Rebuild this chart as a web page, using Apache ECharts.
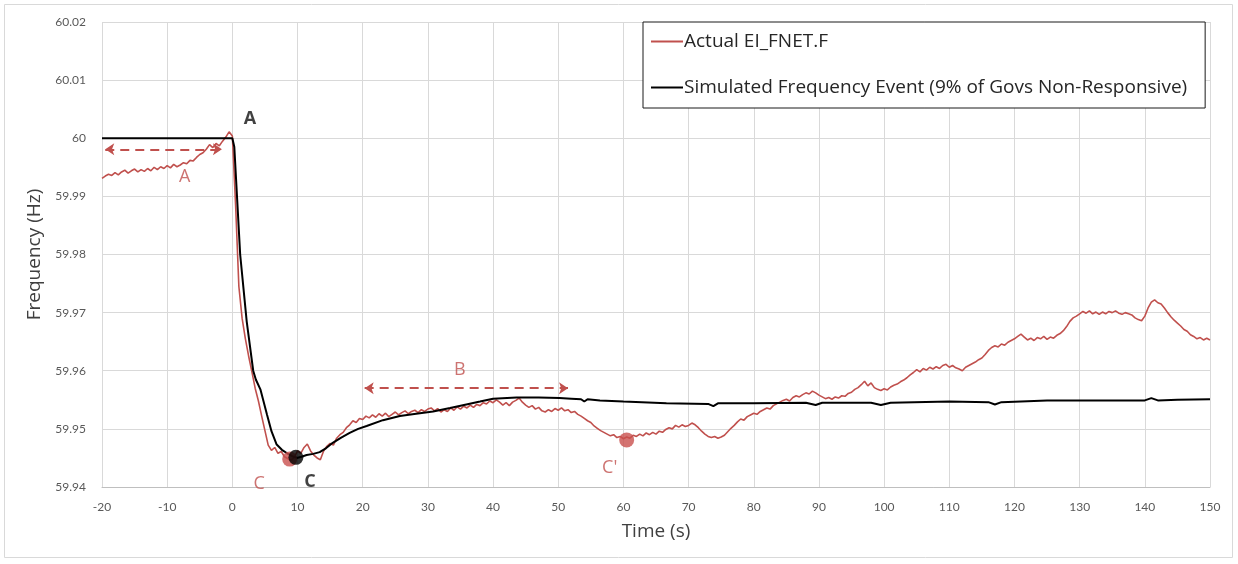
<!DOCTYPE html>
<html>
<head>
<meta charset="utf-8">
<script src="https://cdn.jsdelivr.net/npm/echarts@6/dist/echarts.min.js"></script>
<style>
	html, body { margin: 0; padding: 0; background: #fff; }
	#chart { width: 1238px; height: 564px; }
</style>
</head>
<body>
<div id="chart"></div>
<script>
// measured FNET frequency, one sample every 0.5 s from -20 s
const actualStart = -20;
const actualStep = 0.5;
const actualFreq = [
	59.9931, 59.9935, 59.9938, 59.9936, 59.9941, 59.9937, 59.9942, 59.9945, 59.9940, 59.9944,
	59.9947, 59.9942, 59.9946, 59.9943, 59.9948, 59.9944, 59.9950, 59.9946, 59.9951, 59.9948,
	59.9953, 59.9949, 59.9955, 59.9951, 59.9954, 59.9958, 59.9956, 59.9962, 59.9961, 59.9967,
	59.9972, 59.9975, 59.9981, 59.9989, 59.9984, 59.9991, 59.9987, 59.9995, 60.0002, 60.0011,
	60.0004, 59.9885, 59.9745, 59.9690, 59.9655, 59.9625, 59.9598, 59.9570, 59.9548, 59.9522,
	59.9497, 59.9472, 59.9463, 59.9468, 59.9458, 59.9461, 59.9452, 59.9449, 59.9446, 59.9451,
	59.9462, 59.9458, 59.9468, 59.9474, 59.9462, 59.9455, 59.9450, 59.9447, 59.9462, 59.9470,
	59.9475, 59.9472, 59.9484, 59.9490, 59.9494, 59.9502, 59.9507, 59.9514, 59.9511, 59.9518,
	59.9516, 59.9522, 59.9519, 59.9524, 59.9520, 59.9526, 59.9522, 59.9527, 59.9521, 59.9525,
	59.9529, 59.9524, 59.9528, 59.9531, 59.9526, 59.9530, 59.9532, 59.9528, 59.9533, 59.9530,
	59.9534, 59.9536, 59.9531, 59.9535, 59.9529, 59.9533, 59.9530, 59.9536, 59.9532, 59.9538,
	59.9534, 59.9539, 59.9536, 59.9541, 59.9537, 59.9542, 59.9540, 59.9545, 59.9543, 59.9548,
	59.9545, 59.9550, 59.9546, 59.9541, 59.9545, 59.9540, 59.9546, 59.9549, 59.9553, 59.9546,
	59.9541, 59.9537, 59.9540, 59.9534, 59.9537, 59.9531, 59.9529, 59.9533, 59.9530, 59.9535,
	59.9532, 59.9536, 59.9531, 59.9533, 59.9528, 59.9530, 59.9525, 59.9522, 59.9518, 59.9514,
	59.9511, 59.9505, 59.9501, 59.9497, 59.9494, 59.9491, 59.9488, 59.9490, 59.9485, 59.9487,
	59.9483, 59.9486, 59.9484, 59.9489, 59.9487, 59.9491, 59.9488, 59.9493, 59.9490, 59.9494,
	59.9491, 59.9496, 59.9494, 59.9499, 59.9502, 59.9500, 59.9506, 59.9503, 59.9507, 59.9504,
	59.9506, 59.9510, 59.9507, 59.9502, 59.9496, 59.9491, 59.9487, 59.9485, 59.9487, 59.9484,
	59.9486, 59.9489, 59.9495, 59.9501, 59.9506, 59.9512, 59.9517, 59.9515, 59.9521, 59.9524,
	59.9527, 59.9525, 59.9530, 59.9533, 59.9536, 59.9534, 59.9540, 59.9543, 59.9546, 59.9549,
	59.9551, 59.9548, 59.9554, 59.9557, 59.9555, 59.9559, 59.9562, 59.9560, 59.9565, 59.9562,
	59.9558, 59.9555, 59.9552, 59.9554, 59.9551, 59.9555, 59.9553, 59.9557, 59.9556, 59.9561,
	59.9563, 59.9568, 59.9571, 59.9576, 59.9582, 59.9574, 59.9579, 59.9571, 59.9568, 59.9566,
	59.9569, 59.9567, 59.9572, 59.9575, 59.9577, 59.9581, 59.9584, 59.9588, 59.9593, 59.9597,
	59.9602, 59.9598, 59.9604, 59.9601, 59.9606, 59.9603, 59.9607, 59.9604, 59.9609, 59.9611,
	59.9606, 59.9609, 59.9605, 59.9603, 59.9600, 59.9606, 59.9609, 59.9612, 59.9615, 59.9619,
	59.9622, 59.9628, 59.9635, 59.9640, 59.9643, 59.9641, 59.9646, 59.9644, 59.9649, 59.9652,
	59.9655, 59.9659, 59.9663, 59.9658, 59.9653, 59.9656, 59.9652, 59.9657, 59.9655, 59.9659,
	59.9654, 59.9658, 59.9656, 59.9661, 59.9664, 59.9669, 59.9676, 59.9685, 59.9691, 59.9694,
	59.9698, 59.9702, 59.9699, 59.9703, 59.9698, 59.9701, 59.9697, 59.9701, 59.9698, 59.9702,
	59.9700, 59.9703, 59.9699, 59.9697, 59.9700, 59.9698, 59.9696, 59.9691, 59.9688, 59.9686,
	59.9694, 59.9708, 59.9718, 59.9722, 59.9717, 59.9715, 59.9708, 59.9700, 59.9693, 59.9687,
	59.9682, 59.9677, 59.9671, 59.9668, 59.9662, 59.9659, 59.9655, 59.9657, 59.9653, 59.9656,
	59.9653
];

// simulated event
const simTime = [
	-20, 0, 0.3, 1.2, 2.2, 3.2, 3.6, 4.3, 5.3, 6.0, 6.8, 7.6, 8.4, 9.2, 9.9, 10.6, 11.4, 12.4,
	13.4, 14.4, 15.4, 16.7, 18, 19.3, 20.6, 23.1, 25.7, 28.2, 30.8, 33.4, 35.9, 38, 40, 43.6,
	47, 50.2, 52, 53.5, 54, 54.5, 56.4, 60, 66.6, 73, 73.8, 74.5, 80, 88, 89.5, 90.5, 98,
	99.5, 101, 110, 116, 117, 118, 125, 140, 141, 142, 145, 150
];
const simFreq = [
	60.0, 60.0, 59.9985, 59.9800, 59.9685, 59.9600, 59.9585, 59.9568, 59.9525, 59.9496, 59.9473,
	59.9464, 59.9458, 59.9453, 59.9450, 59.9452, 59.9455, 59.9457, 59.9460, 59.9467, 59.9476,
	59.9485, 59.9493, 59.9500, 59.9505, 59.9515, 59.9522, 59.9526, 59.9530, 59.9536, 59.9542,
	59.9547, 59.9552, 59.9554, 59.9554, 59.9553, 59.9552, 59.9551, 59.9547, 59.9551, 59.9549,
	59.9547, 59.9544, 59.9543, 59.9539, 59.9544, 59.9544, 59.9545, 59.9541, 59.9545, 59.9545,
	59.9541, 59.9545, 59.9547, 59.9546, 59.9542, 59.9546, 59.9549, 59.9549, 59.9553, 59.9549,
	59.9550, 59.9551
];

// annotations (data coordinates)
const notes = [
	{ text: 'A', x: 2.7, y: 60.0034, kind: 'black' },
	{ text: 'A', x: -7.3, y: 59.9933, kind: 'red' },
	{ text: 'B', x: 34.9, y: 59.9601, kind: 'red' },
	{ text: 'C', x: 4.1, y: 59.9406, kind: 'red' },
	{ text: 'C', x: 11.9, y: 59.9409, kind: 'black' },
	{ text: "C'", x: 57.9, y: 59.9433, kind: 'red' }
];
const arrowA = [[-19.5, 59.9981], [-1.6, 59.9981]];
const arrowB = [[20.3, 59.9570], [51.5, 59.9570]];
const redDots = [[8.8, 59.9448], [60.5, 59.9481]];
const blackDots = [[9.75, 59.9451]];

const RED = '#c0504d';
const FONT = '"Open Sans", Lato, sans-serif';
const TICKFONT = 'Lato, "Open Sans", sans-serif';

let actualData = actualFreq.map((v, i) => [actualStart + i * actualStep, v]);
let simData = simTime.map((t, i) => [t, simFreq[i]]);

let arrowLine = function(pts) {
	return [{ coord: pts[0] }, { coord: pts[1] }];
};

let chart = echarts.init(document.getElementById('chart'));
let option = {
	animation: false,
	textStyle: { fontFamily: FONT },
	graphic: [{
		type: 'rect',
		shape: { x: 4.5, y: 4.5, width: 1228, height: 553 },
		style: { fill: 'none', stroke: '#d9d9d9', lineWidth: 1 },
		silent: true
	}],
	grid: { left: 102, right: 28, top: 22, bottom: 77 },
	legend: {
		data: ['Actual EI_FNET.F', 'Simulated Frequency Event (9% of Govs Non-Responsive)'],
		orient: 'vertical',
		left: 643,
		top: 22,
		padding: [10, 18, 11, 8],
		itemGap: 27,
		itemWidth: 32,
		itemHeight: 2,
		icon: 'rect',
		borderColor: '#1a1a1a',
		borderWidth: 1,
		backgroundColor: '#fff',
		textStyle: { fontFamily: FONT, fontSize: 19, color: '#262626', padding: [0, 0, 0, -4] }
	},
	xAxis: {
		type: 'value',
		min: -20,
		max: 150,
		interval: 10,
		name: 'Time (s)',
		nameLocation: 'middle',
		nameGap: 35,
		nameTextStyle: { fontFamily: FONT, fontSize: 19, color: '#404040' },
		axisLine: { show: true, lineStyle: { color: '#bfbfbf', width: 1 } },
		axisTick: { show: false },
		axisLabel: { fontFamily: TICKFONT, fontSize: 12, color: '#595959', margin: 14 },
		splitLine: { show: true, lineStyle: { color: '#d9d9d9', width: 1 } }
	},
	yAxis: {
		type: 'value',
		min: 59.94,
		max: 60.02,
		interval: 0.01,
		name: 'Frequency (Hz)',
		nameLocation: 'middle',
		nameGap: 49,
		nameTextStyle: { fontFamily: FONT, fontSize: 19, color: '#404040' },
		axisLine: { show: false },
		axisTick: { show: false },
		axisLabel: { fontFamily: TICKFONT, fontSize: 12, color: '#595959', margin: 16 },
		splitLine: { show: true, lineStyle: { color: '#d9d9d9', width: 1 } }
	},
	series: [
		{
			name: 'Actual EI_FNET.F',
			type: 'line',
			data: actualData,
			showSymbol: false,
			color: RED,
			lineStyle: { color: RED, width: 1.6 },
			markLine: {
				silent: true,
				symbol: ['arrow', 'arrow'],
				symbolSize: [9, 9],
				label: { show: false },
				lineStyle: { color: RED, width: 2, type: [9, 6] },
				data: [arrowLine(arrowA), arrowLine(arrowB)]
			}
		},
		{
			name: 'Simulated Frequency Event (9% of Govs Non-Responsive)',
			type: 'line',
			data: simData,
			showSymbol: false,
			color: '#000',
			lineStyle: { color: '#000', width: 2 }
		},
		{
			name: 'redDots',
			type: 'scatter',
			data: redDots,
			symbolSize: 15,
			itemStyle: { color: '#c9504d' },
			z: 3
		},
		{
			name: 'blackDots',
			type: 'scatter',
			data: blackDots,
			symbolSize: 15,
			itemStyle: { color: '#000' },
			z: 4
		},
		{
			name: 'notes',
			type: 'scatter',
			symbolSize: 0,
			silent: true,
			data: notes.map(n => ({
				value: [n.x, n.y],
				label: {
					show: true,
					position: 'inside',
					formatter: n.text,
					fontFamily: FONT,
					fontSize: 18,
					fontWeight: n.kind === 'black' ? 'bold' : 'normal',
					color: n.kind === 'black' ? '#111' : RED
				}
			})),
			z: 5
		}
	]
};
chart.setOption(option);
</script>
</body>
</html>
